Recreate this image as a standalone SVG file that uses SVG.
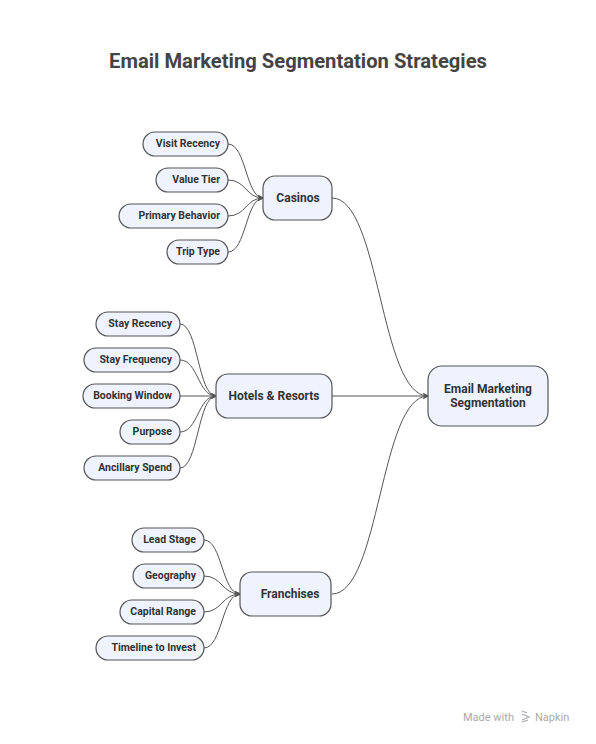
<svg xmlns="http://www.w3.org/2000/svg" width="596" height="744" viewBox="0 0 596 744">
<style>
.n{fill:#EEF3FE;stroke:#555;stroke-width:1.2}
.t{font-family:Roboto,"Liberation Sans",sans-serif;font-weight:bold;fill:#333;font-size:10.5px;text-anchor:end;dominant-baseline:central}
.c{font-family:Roboto,"Liberation Sans",sans-serif;font-weight:bold;fill:#333;font-size:12px;text-anchor:middle;dominant-baseline:central}
.e{fill:none;stroke:#555;stroke-width:1;marker-end:url(#a)}
</style>
<defs>
<marker id="a" viewBox="0 0 10 10" refX="9" refY="5" markerWidth="6" markerHeight="6" orient="auto" markerUnits="userSpaceOnUse">
<path d="M1,1 L9,5 L1,9" fill="none" stroke="#555" stroke-width="1.5"/>
</marker>
</defs>
<rect width="596" height="744" fill="#fff"/>
<text x="298" y="60.5" text-anchor="middle" dominant-baseline="central" font-family="Roboto,'Liberation Sans',sans-serif" font-weight="bold" font-size="20.2" fill="#444">Email Marketing Segmentation Strategies</text>
<g id="connectors">
<path class="e" d="M228,144 C246,144 246,198 263,198"/>
<path class="e" d="M228,180 C246,180 246,198 263,198"/>
<path class="e" d="M228,216 C246,216 246,198 263,198"/>
<path class="e" d="M228,252 C246,252 246,198 263,198"/>
<path class="e" d="M180,324 C198,324 198,396 216,396"/>
<path class="e" d="M180,360 C198,360 198,396 216,396"/>
<path class="e" d="M180,396 L216,396"/>
<path class="e" d="M180,432 C198,432 198,396 216,396"/>
<path class="e" d="M180,468 C198,468 198,396 216,396"/>
<path class="e" d="M204,540 C222,540 222,594 240,594"/>
<path class="e" d="M204,576 C222,576 222,594 240,594"/>
<path class="e" d="M204,612 C222,612 222,594 240,594"/>
<path class="e" d="M204,648 C222,648 222,594 240,594"/>
<path class="e" d="M332,198 C380,198 380,396 428,396"/>
<path class="e" d="M332,396 L428,396"/>
<path class="e" d="M332,594 C380,594 380,396 428,396"/>
</g>
<g id="central"><rect class="n" x="428" y="366" width="120" height="60" rx="14"/><text class="c" x="488" y="389">Email Marketing</text><text class="c" x="488" y="403">Segmentation</text></g>
<g id="casinos"><rect class="n" x="263" y="176" width="69" height="44" rx="12"/><text class="c" x="298" y="198">Casinos</text></g>
<g id="hotels"><rect class="n" x="216" y="374" width="116" height="44" rx="12"/><text class="c" x="274" y="396">Hotels &amp; Resorts</text></g>
<g id="franchises"><rect class="n" x="240" y="572" width="91" height="44" rx="12"/><text class="c" x="290" y="594">Franchises</text></g>
<g id="visit-recency"><rect class="n" x="143" y="132" width="85" height="24" rx="12"/><text class="t" x="220" y="143.5">Visit Recency</text></g>
<g id="value-tier"><rect class="n" x="156" y="168" width="72" height="24" rx="12"/><text class="t" x="220" y="179.5">Value Tier</text></g>
<g id="primary-behavior"><rect class="n" x="119" y="204" width="109" height="24" rx="12"/><text class="t" x="220" y="215.5">Primary Behavior</text></g>
<g id="trip-type"><rect class="n" x="167" y="240" width="61" height="24" rx="12"/><text class="t" x="220" y="251.5">Trip Type</text></g>
<g id="stay-recency"><rect class="n" x="96" y="312" width="84" height="24" rx="12"/><text class="t" x="172" y="323.5">Stay Recency</text></g>
<g id="stay-frequency"><rect class="n" x="84" y="348" width="96" height="24" rx="12"/><text class="t" x="172" y="359.5">Stay Frequency</text></g>
<g id="booking-window"><rect class="n" x="83" y="384" width="97" height="24" rx="12"/><text class="t" x="172" y="395.5">Booking Window</text></g>
<g id="purpose"><rect class="n" x="120" y="420" width="60" height="24" rx="12"/><text class="t" x="172" y="431.5">Purpose</text></g>
<g id="ancillary-spend"><rect class="n" x="84" y="456" width="96" height="24" rx="12"/><text class="t" x="172" y="467.5">Ancillary Spend</text></g>
<g id="lead-stage"><rect class="n" x="132" y="528" width="72" height="24" rx="12"/><text class="t" x="196" y="539.5">Lead Stage</text></g>
<g id="geography"><rect class="n" x="133" y="564" width="71" height="24" rx="12"/><text class="t" x="196" y="575.5">Geography</text></g>
<g id="capital-range"><rect class="n" x="120" y="600" width="84" height="24" rx="12"/><text class="t" x="196" y="611.5">Capital Range</text></g>
<g id="timeline"><rect class="n" x="96" y="636" width="108" height="24" rx="12"/><text class="t" x="196" y="647.5">Timeline to Invest</text></g>
<g id="watermark" fill="#aaa" font-family="Roboto,'Liberation Sans',sans-serif" font-size="11">
<text x="463" y="717" dominant-baseline="central">Made with</text>
<path d="M522,711 l5,2 M522,714 l7,3 -7,3 M522,722 l6,-2" fill="none" stroke="#aaa" stroke-width="1.2"/>
<text x="535" y="717" dominant-baseline="central">Napkin</text>
</g>
</svg>
